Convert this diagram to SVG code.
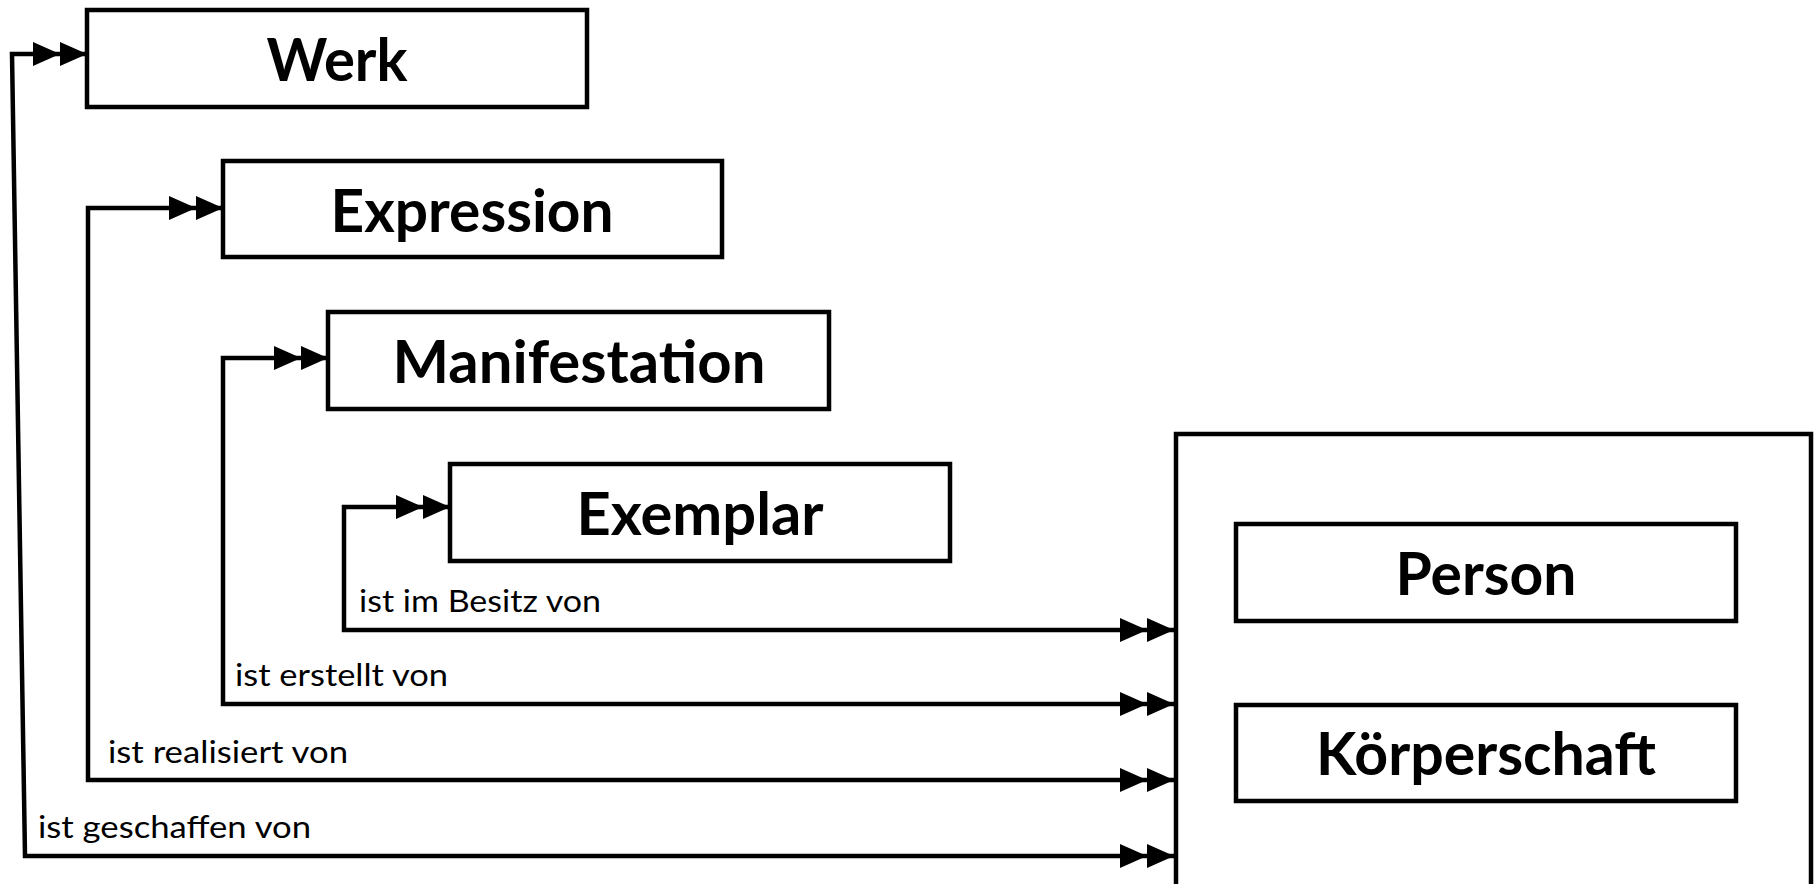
<svg xmlns="http://www.w3.org/2000/svg" width="1818" height="884" viewBox="0 0 1818 884">
<style>
.box{fill:#fff;stroke:#000;stroke-width:4.5}
.title{font-family:Lato,"Open Sans",sans-serif;font-weight:bold;font-size:60px;text-anchor:middle;fill:#000}
.lbl{font-family:Lato,"Open Sans",sans-serif;font-size:30px;fill:#000}
.con{fill:none;stroke:#000;stroke-width:4.5;marker-start:url(#dbl);marker-end:url(#dbl)}
</style>
<defs>
<marker id="dbl" markerUnits="userSpaceOnUse" viewBox="-56 -14 58 28" refX="0" refY="0" markerWidth="58" markerHeight="28" orient="auto-start-reverse">
<path d="M-54,-12 L-27,0 L-54,12 Z M-27,-12 L0,0 L-27,12 Z" fill="#000"/>
</marker>
</defs>
<g id="connectors">
<path class="con" d="M87,54 L12,54 L25,856 L1174,856"/>
<path class="con" d="M223,208 L88,208 L88,780 L1174,780"/>
<path class="con" d="M328,358 L223,358 L223,704 L1174,704"/>
<path class="con" d="M450,507 L344,507 L344,630 L1174,630"/>
<text class="lbl" x="359" y="612" textLength="242" lengthAdjust="spacingAndGlyphs">ist im Besitz von</text>
<text class="lbl" x="235" y="686" textLength="213" lengthAdjust="spacingAndGlyphs">ist erstellt von</text>
<text class="lbl" x="108" y="763" textLength="240" lengthAdjust="spacingAndGlyphs">ist realisiert von</text>
<text class="lbl" x="38" y="838" textLength="273" lengthAdjust="spacingAndGlyphs">ist geschaffen von</text>
</g>
<g id="werk">
<rect class="box" x="87" y="10" width="500" height="97"/>
<text class="title" x="337" y="81" textLength="141" lengthAdjust="spacingAndGlyphs">Werk</text>
</g>
<g id="expression">
<rect class="box" x="223" y="161" width="499" height="96"/>
<text class="title" x="472" y="232" textLength="283" lengthAdjust="spacingAndGlyphs">Expression</text>
</g>
<g id="manifestation">
<rect class="box" x="328" y="312" width="501" height="97"/>
<text class="title" x="579" y="383" textLength="373" lengthAdjust="spacingAndGlyphs">Manifestation</text>
</g>
<g id="exemplar">
<rect class="box" x="450" y="464" width="500" height="97"/>
<text class="title" x="700" y="535" textLength="247" lengthAdjust="spacingAndGlyphs">Exemplar</text>
</g>
<g id="gruppe">
<rect class="box" x="1176" y="434" width="635" height="480"/>
</g>
<g id="person">
<rect class="box" x="1236" y="524" width="500" height="97"/>
<text class="title" x="1486" y="595" textLength="181" lengthAdjust="spacingAndGlyphs">Person</text>
</g>
<g id="koerperschaft">
<rect class="box" x="1236" y="705" width="500" height="96"/>
<text class="title" x="1486" y="775" textLength="340" lengthAdjust="spacingAndGlyphs">Körperschaft</text>
</g>
</svg>
